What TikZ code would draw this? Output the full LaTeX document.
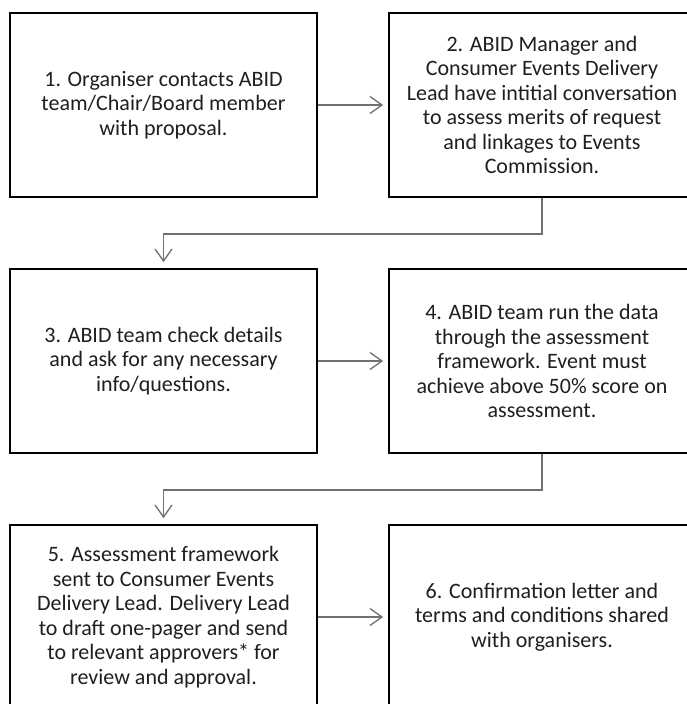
\documentclass[tikz,border=0pt]{standalone}
\usepackage{fontspec}
\setmainfont{Carlito}
\usetikzlibrary{arrows.meta}
\definecolor{conngray}{RGB}{112,112,112}
\tikzset{
  stepbox/.style={draw=black, line width=1.8pt, minimum width=307pt, minimum height=184pt,
    inner sep=0pt, align=center, font=\fontsize{22}{24.5}\selectfont, text=black!88},
  conn/.style={draw=conngray, line width=1.3pt, -{Straight Barb[length=12pt,width=17pt,line width=1.3pt]}},
}
\begin{document}
\begin{tikzpicture}[x=1pt,y=-1pt]
\useasboundingbox (0,0) rectangle (687,704);
\clip (0,0) rectangle (687,704);
\fill[white] (0,0) rectangle (687,704);
\node[stepbox] (b1) at (163.5,105) {1. Organiser contacts ABID\\team/Chair/Board member\\with proposal.};
\node[stepbox, minimum width=306pt] (b2) at (542,105) {2. ABID Manager and\\Consumer Events Delivery\\Lead have intitial conversation\\to assess merits of request\\and linkages to Events\\Commission.};
\node[stepbox] (b3) at (163.5,361) {3. ABID team check details\\and ask for any necessary\\info/questions.};
\node[stepbox, minimum width=306pt] (b4) at (542,361) {4. ABID team run the data\\through the assessment\\framework. Event must\\achieve above 50\% score on\\assessment.};
\node[stepbox] (b5) at (163.5,617) {5. Assessment framework\\sent to Consumer Events\\Delivery Lead. Delivery Lead\\to draft one-pager and send\\to relevant approvers* for\\review and approval.};
\node[stepbox, minimum width=306pt] (b6) at (542,617) {6. Confirmation letter and\\terms and conditions shared\\with organisers.};
\draw[conn, shorten >=5pt] (b1.east) -- (b2.west);
\draw[conn, shorten >=5pt] (b3.east) -- (b4.west);
\draw[conn, shorten >=5pt] (b5.east) -- (b6.west);
\draw[conn, shorten >=6pt] (b2.south) -- ++(0,36) -| (b3.north);
\draw[conn, shorten >=6pt] (b4.south) -- ++(0,36) -| (b5.north);
\end{tikzpicture}
\end{document}
